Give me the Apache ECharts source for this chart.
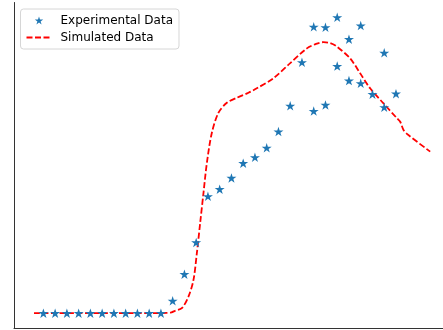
<!DOCTYPE html>
<html>
<head>
<meta charset="utf-8">
<script src="https://cdn.jsdelivr.net/npm/echarts@6/dist/echarts.min.js"></script>
<style>
html,body{margin:0;padding:0;background:#fff;}
#c{width:443px;height:330px;}
</style>
</head>
<body>
<div id="c"></div>
<script>
// Experimental data (time index, value)
var expX = [0,1,2,3,4,5,6,7,8,9,10,11,12,13,14,15,16,17,18,19,20,21,22,23,23,24,24,25,25,26,26,27,27,28,29,29,30];
var expY = [0,0,0,0,0,0,0,0,0,0,0,4.2,13.2,23.9,39.5,41.9,45.7,50.7,52.7,55.9,61.4,70.1,84.8,96.8,68.3,96.6,70.4,100,83.5,92.6,78.6,97.2,77.7,74.0,88.0,69.6,74.2];

// Simulated data
var simX = [-0.8,2,5,8,10.5,10.9,11.2,11.78,12.34,12.77,13.06,13.34,13.62,13.91,14.33,14.89,15.61,16.46,17.45,18.16,19.57,21.0,22.42,23.2,23.83,24.4,24.97,26.10,26.95,27.80,28.94,30.08,30.36,30.64,31.06,32.91];
var simY = [0,0,0,0,0.1,0.3,0.8,1.7,5.6,11.25,20.4,30.5,40.6,50.8,60.9,67.7,71.1,72.8,74.5,76.0,79.4,84.5,89.5,91.0,91.6,91.3,90.1,86.1,81.1,76.0,70.9,65.9,64.7,61.9,60.2,54.6];

var seriesNames = ['Experimental Data', 'Simulated Data'];

var starPath = 'path://M100,0L122.45,69.1L195.11,69.1L136.33,111.8L158.78,180.9L100,138.2L41.22,180.9L63.67,111.8L4.89,69.1L77.55,69.1Z';

var expData = expX.map(function(x, i){ return [x, expY[i]]; });
var simData = simX.map(function(x, i){ return [x, simY[i]]; });

var chart = echarts.init(document.getElementById('c'), null, {renderer:'canvas'});
chart.setOption({
  animation: false,
  backgroundColor: '#fff',
  grid: {left: 14, right: 0, top: 2.5, bottom: 2},
  xAxis: {
    type: 'value', min: -2.5, max: 34,
    axisLine: {show: true, onZero: false, lineStyle: {color: '#333', width: 1}},
    axisTick: {show: false}, axisLabel: {show: false}, splitLine: {show: false}
  },
  yAxis: {
    type: 'value', min: -5, max: 105,
    axisLine: {show: true, onZero: false, lineStyle: {color: '#333', width: 1}},
    axisTick: {show: false}, axisLabel: {show: false}, splitLine: {show: false}
  },
  legend: {
    orient: 'vertical', left: 20.5, top: 9,
    padding: [5, 6, 5, 5],
    itemWidth: 25, itemHeight: 8, itemGap: 4,
    backgroundColor: 'rgba(255,255,255,0.85)',
    borderColor: '#d6d6d6', borderWidth: 1, borderRadius: 3,
    textStyle: {fontFamily: 'DejaVu Sans', fontSize: 12, lineHeight: 13, color: '#000', padding: [0,0,0,4]},
    data: [
      {name: seriesNames[0]},
      {name: seriesNames[1], itemStyle: {color: 'rgba(0,0,0,0)', borderWidth: 0, opacity: 0}}
    ]
  },
  series: [
    {
      name: seriesNames[1], type: 'line', data: simData,
      smooth: 0.3, showSymbol: false, symbol: 'none',
      lineStyle: {color: '#ff0000', width: 1.8, type: [6, 2.5]},
      itemStyle: {color: '#ff0000'},
      z: 2
    },
    {
      name: seriesNames[0], type: 'scatter', data: expData,
      symbol: starPath, symbolSize: [10, 9.5],
      itemStyle: {color: '#1f77b4', opacity: 1},
      z: 3
    }
  ]
});
</script>
</body>
</html>
